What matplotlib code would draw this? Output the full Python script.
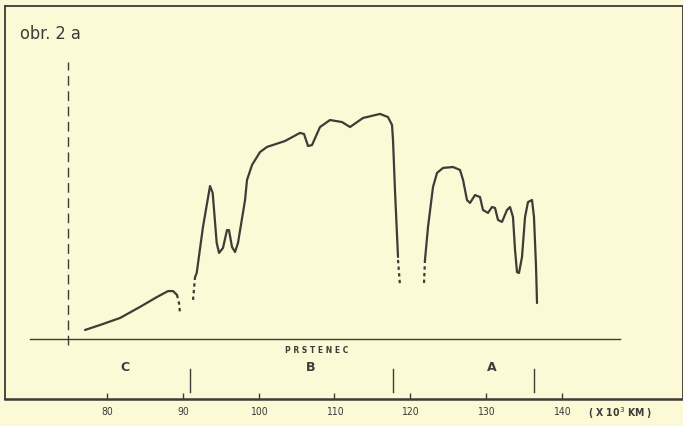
import matplotlib.pyplot as plt

# Saturn ring brightness profile, distance in 10^3 km, relative brightness
ring_c_km = [77.10, 79.08, 81.72, 84.35, 86.60, 88.05, 88.71, 89.23]
ring_c_val = [0.040, 0.062, 0.093, 0.142, 0.186, 0.212, 0.212, 0.195]
ring_c_gap_km = [89.23, 89.50, 89.63]
ring_c_gap_val = [0.195, 0.159, 0.115]

ring_b_gap_in_km = [91.35, 91.61]
ring_b_gap_in_val = [0.173, 0.274]
ring_b_km = [91.61, 91.83, 92.66, 93.59, 93.94, 94.47, 94.78, 95.30, 95.83, 96.09,
             96.49, 96.89, 97.28, 98.21, 98.47, 99.13, 100.18, 101.11, 103.48,
             105.46, 105.99, 106.52, 107.04, 108.10, 109.42, 111.00, 112.06,
             113.77, 116.02, 117.07, 117.60, 117.73, 117.99, 118.39]
ring_b_val = [0.274, 0.292, 0.496, 0.677, 0.646, 0.425, 0.381, 0.403, 0.482, 0.482,
              0.407, 0.385, 0.425, 0.615, 0.704, 0.770, 0.827, 0.850, 0.876,
              0.912, 0.907, 0.854, 0.858, 0.938, 0.969, 0.960, 0.938,
              0.978, 0.996, 0.982, 0.947, 0.881, 0.659, 0.363]
ring_b_gap_out_km = [118.39, 118.65]
ring_b_gap_out_val = [0.350, 0.239]

ring_a_gap_km = [121.82, 121.95]
ring_a_gap_val = [0.248, 0.350]
ring_a_km = [121.95, 122.35, 123.01, 123.54, 124.33, 125.65, 126.57, 126.97,
             127.49, 127.89, 128.55, 129.21, 129.60, 130.26, 130.79, 131.19,
             131.58, 132.11, 132.77, 133.17, 133.56, 133.83, 134.09, 134.35,
             134.75, 135.15, 135.54, 136.07, 136.33, 136.60, 136.73]
ring_a_val = [0.350, 0.496, 0.673, 0.735, 0.757, 0.761, 0.748, 0.704,
              0.615, 0.602, 0.637, 0.628, 0.571, 0.558, 0.584, 0.580,
              0.527, 0.518, 0.571, 0.584, 0.540, 0.394, 0.296, 0.292,
              0.363, 0.540, 0.606, 0.615, 0.540, 0.319, 0.159]

ticks = [80, 90, 100, 110, 120, 130, 140]
ring_names = ['C', 'B', 'A']
ring_name_km = [82.4, 106.8, 130.8]
ring_edges = [90.95, 117.73, 136.33]

bg = '#fbf9d6'
ink = '#3f3b36'
narrow = ['Liberation Sans Narrow', 'DejaVu Sans']

fig = plt.figure(figsize=(6.83, 4.26), dpi=100, facecolor=bg)
ax = fig.add_axes([5 / 683, 27 / 426, 678 / 683, 393 / 426], facecolor=bg)
ax.set_xlim(66.54, 155.99)
ax.set_ylim(-0.2655, 1.4735)

for side in ['left', 'top', 'right']:
    ax.spines[side].set_linewidth(1.3)
    ax.spines[side].set_color(ink)
ax.spines['bottom'].set_linewidth(1.8)
ax.spines['bottom'].set_color(ink)

ax.set_xticks(ticks)
ax.set_xticklabels([str(t) for t in ticks], family=narrow, stretch='condensed',
                   fontsize=7.5, color=ink)
ax.tick_params(axis='x', direction='in', length=4, width=1, color=ink, pad=6)
ax.set_yticks([])

# curve
lw = 1.6
dots = (0, (1.5, 1.5))
ax.plot(ring_c_km, ring_c_val, color=ink, lw=lw, solid_capstyle='round')
ax.plot(ring_c_gap_km, ring_c_gap_val, color=ink, lw=lw, ls=dots)
ax.plot(ring_b_gap_in_km, ring_b_gap_in_val, color=ink, lw=lw, ls=dots)
ax.plot(ring_b_km, ring_b_val, color=ink, lw=lw, solid_capstyle='round')
ax.plot(ring_b_gap_out_km, ring_b_gap_out_val, color=ink, lw=lw, ls=dots)
ax.plot(ring_a_gap_km, ring_a_gap_val, color=ink, lw=lw, ls=dots)
ax.plot(ring_a_km, ring_a_val, color=ink, lw=lw, solid_capstyle='round')

# baseline and dashed reference line
ax.plot([69.84, 147.68], [0, 0], color=ink, lw=1)
ax.plot([74.86, 74.86], [-0.027, 1.226], color=ink, lw=1, ls=(0, (7, 4)))

# ring boundaries and names
for e in ring_edges:
    ax.plot([e, e], [-0.133, -0.235], color=ink, lw=1)
for n, x in zip(ring_names, ring_name_km):
    ax.text(x, -0.128, n, ha='center', va='center', fontsize=9,
            fontweight='bold', color=ink)
ax.text(107.6, -0.05, 'P R S T E N E C', ha='center', va='center', fontsize=5.5,
        fontweight='bold', color=ink)
ax.text(147.7, -0.328, '( X 10$^3$ KM )', ha='center', va='center',
        family=narrow, stretch='condensed', fontsize=7.5, fontweight='bold',
        color=ink, clip_on=False)
ax.text(68.5, 1.35, 'obr. 2 a', ha='left', va='center', family=narrow,
        stretch='condensed', fontsize=13, color=ink)

fig.savefig('out.png', dpi=100, facecolor=bg)
